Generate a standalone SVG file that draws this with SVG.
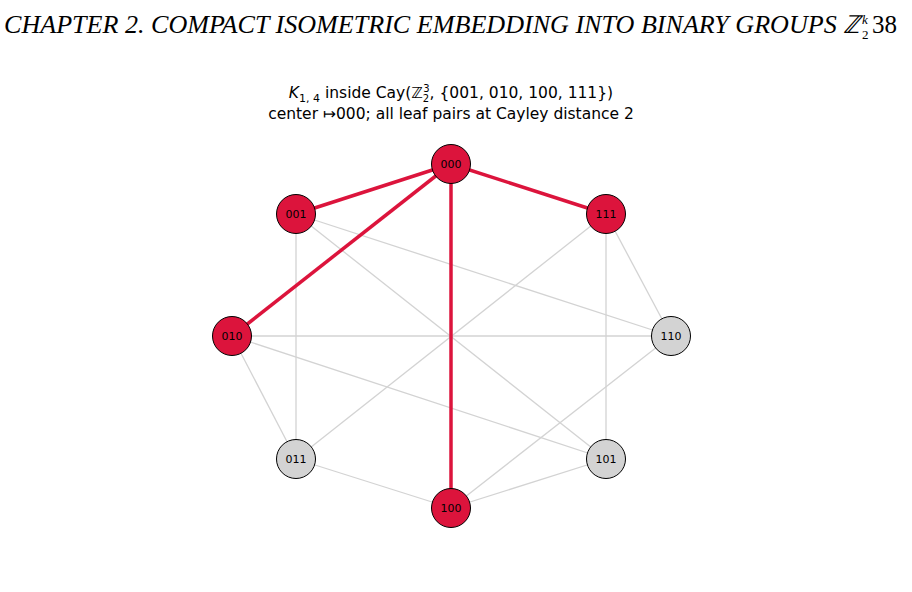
<svg xmlns="http://www.w3.org/2000/svg" width="912" height="592" viewBox="0 0 912 592">
<style>
.g{stroke:#d3d3d3;stroke-width:1.3;fill:none}
.r{stroke:#dc143c;stroke-width:3.5;fill:none}
.nr{fill:#dc143c;stroke:#000;stroke-width:1}
.ng{fill:#d3d3d3;stroke:#000;stroke-width:1}
.l{font-family:"DejaVu Sans",sans-serif;font-size:11px;text-anchor:middle;dominant-baseline:central;fill:#000}
.t{font-family:"DejaVu Sans",sans-serif;font-size:15.5px;text-anchor:middle;fill:#000}
.h{font-family:"Liberation Serif",serif;font-style:italic;font-size:25px;fill:#000}
</style>
<rect width="912" height="592" fill="#fff"/>
<text class="h" x="4" y="33" textLength="856" lengthAdjust="spacingAndGlyphs">CHAPTER 2.  COMPACT ISOMETRIC EMBEDDING INTO BINARY GROUPS ℤ</text>
<text x="862" y="24" font-family="Liberation Serif,serif" font-style="italic" font-size="13">k</text>
<text x="862" y="39" font-family="Liberation Serif,serif" font-size="13">2</text>
<text x="872" y="33" font-family="Liberation Serif,serif" font-size="25">38</text>
<text class="t" x="451" y="98"><tspan font-style="italic">K</tspan><tspan font-size="11" dy="4">1, 4</tspan><tspan dy="-4"> inside Cay(</tspan><tspan font-style="italic">ℤ</tspan><tspan font-size="10" dy="4">2</tspan><tspan font-size="10" dx="-6" dy="-10">3</tspan><tspan dy="6">, {001, 010, 100, 111})</tspan></text>
<text class="t" x="451" y="119">center ↦000; all leaf pairs at Cayley distance 2</text>
<g id="edges">
<line class="g" x1="296" y1="214" x2="296" y2="459"/>
<line class="g" x1="296" y1="214" x2="606" y2="459"/>
<line class="g" x1="296" y1="214" x2="671" y2="336"/>
<line class="g" x1="232" y1="336" x2="296" y2="459"/>
<line class="g" x1="232" y1="336" x2="671" y2="336"/>
<line class="g" x1="232" y1="336" x2="606" y2="459"/>
<line class="g" x1="451" y1="508" x2="606" y2="459"/>
<line class="g" x1="451" y1="508" x2="671" y2="336"/>
<line class="g" x1="451" y1="508" x2="296" y2="459"/>
<line class="g" x1="606" y1="214" x2="671" y2="336"/>
<line class="g" x1="606" y1="214" x2="606" y2="459"/>
<line class="g" x1="606" y1="214" x2="296" y2="459"/>
<line class="r" x1="451" y1="164" x2="296" y2="214"/>
<line class="r" x1="451" y1="164" x2="232" y2="336"/>
<line class="r" x1="451" y1="164" x2="451" y2="508"/>
<line class="r" x1="451" y1="164" x2="606" y2="214"/>
</g>
<g id="n000"><circle class="nr" cx="451" cy="164" r="19.5"/><text class="l" x="451" y="164">000</text></g>
<g id="n001"><circle class="nr" cx="296" cy="214" r="19.5"/><text class="l" x="296" y="214">001</text></g>
<g id="n111"><circle class="nr" cx="606" cy="214" r="19.5"/><text class="l" x="606" y="214">111</text></g>
<g id="n010"><circle class="nr" cx="232" cy="336" r="19.5"/><text class="l" x="232" y="336">010</text></g>
<g id="n110"><circle class="ng" cx="671" cy="336" r="19.5"/><text class="l" x="671" y="336">110</text></g>
<g id="n011"><circle class="ng" cx="296" cy="459" r="19.5"/><text class="l" x="296" y="459">011</text></g>
<g id="n101"><circle class="ng" cx="606" cy="459" r="19.5"/><text class="l" x="606" y="459">101</text></g>
<g id="n100"><circle class="nr" cx="451" cy="508" r="19.5"/><text class="l" x="451" y="508">100</text></g>
</svg>
